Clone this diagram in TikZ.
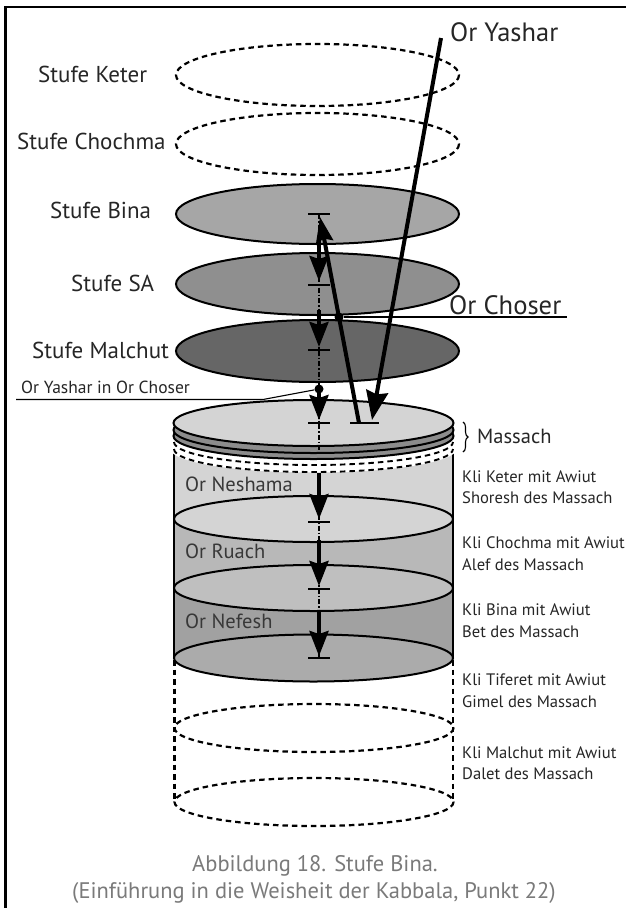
\documentclass[tikz,border=0pt]{standalone}
\usepackage{fontspec}
\setmainfont{PT Sans}
\usetikzlibrary{arrows.meta,decorations.pathreplacing}
\definecolor{txt}{gray}{0.15}
\definecolor{capt}{gray}{0.48}
\tikzset{
  outl/.style={draw=black,line width=2pt},
  dashel/.style={draw=black,line width=2.2pt,dash pattern=on 5.5pt off 4pt},
  wallsty/.style={draw=black,line width=2pt},
  axisline/.style={draw=black,line width=1.3pt,dash pattern=on 5pt off 2pt on 1.5pt off 2pt},
  tickbar/.style={draw=black,line width=2.5pt},
  downarrow/.style={draw=black,line width=3.8pt,-{Stealth[length=25pt,width=19pt,inset=3pt]}},
  bigarrow/.style={draw=black,line width=4pt,-{Stealth[length=29pt,width=22pt,inset=3pt]}},
  backarrow/.style={draw=black,line width=4pt,-{Stealth[length=25pt,width=17pt,inset=3pt]}},
  leader/.style={draw=black,line width=1.1pt},
  lab/.style={anchor=base west,inner sep=0pt,text=txt,font=\fontsize{23}{25}\selectfont},
  innerlab/.style={anchor=base west,inner sep=0pt,text=black!78,font=\fontsize{20.5}{23}\selectfont},
  smalllab/.style={anchor=base west,inner sep=0pt,text=txt,font=\fontsize{16.6}{19}\selectfont},
  captext/.style={anchor=base,inner sep=0pt,text=capt,font=\fontsize{22.5}{25}\selectfont}
}
\begin{document}
\begin{tikzpicture}[x=1pt,y=-1pt]
\useasboundingbox (0,0) rectangle (626,908);
\fill[white] (0,0) rectangle (626,908);
% frame
\draw[black,line width=2.8pt] (626,7) -- (5.5,7) -- (5.5,908);

% upper discs
\draw[dashel] (317.5,75) ellipse [x radius=141.5,y radius=31];
\draw[dashel] (317.5,144) ellipse [x radius=141.5,y radius=31];
\draw[outl,fill=black!35] (317.5,214) ellipse [x radius=141.5,y radius=30];
\draw[outl,fill=black!44] (317.5,284) ellipse [x radius=141.5,y radius=31];
\draw[outl,fill=black!60] (317.5,351) ellipse [x radius=141.5,y radius=31];

% lower dashed vessel
\draw[dashel] (174.5,660) -- (174.5,802);
\draw[dashel] (453,660) -- (453,802);
\draw[dashel] (314,728) ellipse [x radius=139.5,y radius=24];
\draw[dashel] (314,802) ellipse [x radius=139.5,y radius=24];

% cylinder bands, bottom first
\fill[black!37] (174,588) rectangle (453,658);
\draw[outl,fill=black!33] (313.5,658) ellipse [x radius=139.5,y radius=23.5];
\fill[black!28] (174,519) rectangle (453,588);
\draw[outl,fill=black!25] (313.5,588) ellipse [x radius=139.5,y radius=23];
\fill[black!17] (174,450) rectangle (453,519);
\draw[outl,fill=black!17] (313.5,519) ellipse [x radius=139.5,y radius=23];
\draw[wallsty] (174,450) -- (174,658);
\draw[wallsty] (453,450) -- (453,658);

% massach
\fill[white] (313.5,449) ellipse [x radius=143,y radius=23.5];
\draw[dashel,line width=1.9pt] (174,449) arc [start angle=180,end angle=0,x radius=139.5,y radius=23];
\draw[dashel,line width=1.9pt] (174,442) arc [start angle=180,end angle=0,x radius=139.5,y radius=23];
\draw[outl,fill=black!45] (313.5,436) ellipse [x radius=140,y radius=23];
\draw[outl,fill=black!45] (313.5,430) ellipse [x radius=140,y radius=23];
\draw[outl,fill=black!17] (313.5,423) ellipse [x radius=140,y radius=23];

% axis points
\coordinate (b0) at (319,214);
\coordinate (b1) at (319,285);
\coordinate (b2) at (319,350);
\coordinate (b3) at (319,423);
\coordinate (b4) at (319,522);
\coordinate (b5) at (319,589);
\coordinate (b6) at (319,658);
\coordinate (axisend) at (319,453);
\coordinate (axisres) at (319,473);
\draw[axisline] (b0) -- (axisend);
\draw[axisline] (axisres) -- (b6);
\foreach \p in {b0,b1,b2,b3,b4,b5,b6}
  \draw[tickbar] (\p) ++(-11,0) -- ++(22,0);

% descending arrows
\coordinate (a1s) at (319,238); \coordinate (a1e) at (319,281);
\coordinate (a2s) at (319,310); \coordinate (a2e) at (319,347);
\coordinate (a3s) at (319,392); \coordinate (a3e) at (319,420);
\coordinate (a4s) at (319,473); \coordinate (a4e) at (319,519);
\coordinate (a5s) at (319,540); \coordinate (a5e) at (319,586);
\coordinate (a6s) at (319,612); \coordinate (a6e) at (319,656);
\foreach \n in {1,...,6}
  \draw[downarrow] (a\n s) -- (a\n e);

% Or Yashar and Or Choser rays
\coordinate (ystart) at (441,38);
\coordinate (yend) at (372,420);
\coordinate (cstart) at (359,423);
\coordinate (cend) at (320,217);
\coordinate (barL) at (350,423);
\coordinate (barR) at (379,423);
\draw[tickbar] (barL) -- (barR);
\draw[bigarrow] (ystart) -- (yend);
\draw[backarrow] (cstart) -- (cend);

% leaders
\node[circle,fill=black,inner sep=0pt,minimum size=9pt] (dotC) at (339,317) {};
\node[circle,fill=black,inner sep=0pt,minimum size=9pt] (dotY) at (319,389) {};
\coordinate (cEnd) at (567,317);
\draw[leader,line width=1.4pt] (dotC) -- (cEnd);
\coordinate (yL) at (16,399.5);
\coordinate (yM) at (263,399.5);
\draw[leader] (yL) -- (yM) -- (dotY);

% brace
\coordinate (brT) at (463,422);
\coordinate (brB) at (463,452);
\draw[black,line width=1.1pt,decorate,decoration={brace,amplitude=5pt}] (brT) -- (brB);

% labels
\node[lab] (l1) at (38,82) {Stufe Keter};
\node[lab] (l2) at (17,149) {Stufe Chochma};
\node[lab] (l3) at (50,218) {Stufe Bina};
\node[lab] (l4) at (71,291) {Stufe SA};
\node[lab] (l5) at (32,358) {Stufe Malchut};
\node[lab,font=\fontsize{17.5}{20}\selectfont] (l6) at (21,393) {Or Yashar in Or Choser};
\node[lab,font=\fontsize{26.5}{28}\selectfont] (l7) at (450,41) {Or Yashar};
\node[lab,font=\fontsize{26.6}{28}\selectfont] (l8) at (449,314) {Or Choser};
\node[lab,font=\fontsize{20.5}{23}\selectfont] (l9) at (477,443) {Massach};
\node[innerlab] (n1) at (185,491) {Or Neshama};
\node[innerlab] (n2) at (185,558) {Or Ruach};
\node[innerlab] (n3) at (185,628) {Or Nefesh};
\node[smalllab] (r1) at (462,482) {Kli Keter mit Awiut};
\node[smalllab] (r2) at (462,503) {Shoresh des Massach};
\node[smalllab] (r3) at (462,548) {Kli Chochma mit Awiut};
\node[smalllab] (r4) at (462,570) {Alef des Massach};
\node[smalllab] (r5) at (462,615) {Kli Bina mit Awiut};
\node[smalllab] (r6) at (462,637) {Bet des Massach};
\node[smalllab] (r7) at (462,685) {Kli Tiferet mit Awiut};
\node[smalllab] (r8) at (462,707) {Gimel des Massach};
\node[smalllab] (r9) at (462,758) {Kli Malchut mit Awiut};
\node[smalllab] (r10) at (462,779) {Dalet des Massach};
\node[captext] (c1) at (315,871) {Abbildung 18. Stufe Bina.};
\node[captext] (c2) at (314,898) {(Einführung in die Weisheit der Kabbala, Punkt 22)};
\end{tikzpicture}
\end{document}
